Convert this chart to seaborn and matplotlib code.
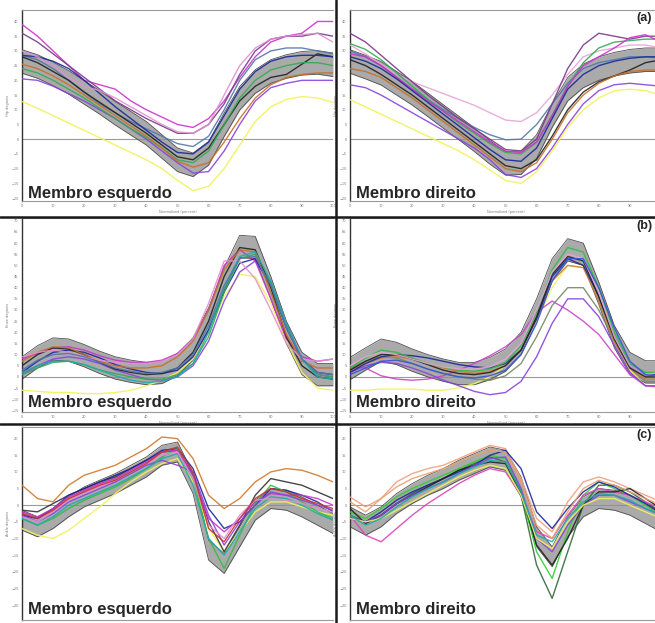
import matplotlib
matplotlib.use("Agg")
import matplotlib.pyplot as plt
from matplotlib.lines import Line2D
from matplotlib.ticker import MultipleLocator, FixedLocator
import numpy as np
import pandas as pd
import seaborn as sns

# gait cycle, percent
pct = list(range(0, 101, 5))

# ---- (a) hip flexion/extension, degrees ----
hip_l_mean = [26.4, 24.7, 22.2, 19.3, 15.9, 12.5, 8.8, 5.4, 2.0, -2.5, -7.0, -8.7, -4.8, 4.9, 13.9, 19.6, 23.0, 24.7, 25.8, 26.1, 25.3]
hip_r_mean = [26.4, 24.5, 22.4, 19.0, 15.6, 11.7, 7.7, 3.8, -0.2, -4.5, -8.2, -8.0, -2.5, 8.0, 17.0, 21.5, 24.0, 25.5, 26.5, 27.0, 27.0]
hip_sd = 4.0

hip_l_curves = [
    [39, 35, 30, 25, 20, 18.5, 17, 13, 10, 7.5, 5, 4, 7, 13, 21, 28, 33, 35, 36, 40, 40],
    [36, 33, 29, 25, 21, 17, 13, 10, 7, 4.5, 2, 2, 5, 12, 22, 30, 34, 35, 35, 36, 35],
    [28.5, 27, 24, 20, 16, 12, 9, 6, 3.5, 1, -1.5, -2.5, 1, 10, 20, 27, 30, 31, 31, 30, 29],
    [20.5, 20, 18, 15.5, 13, 10, 7, 3.5, 0, -4, -8, -11.5, -11, -4, 5, 13, 17.5, 19, 20, 20, 20],
    [12.8, 10.5, 8, 5.5, 3, 0.5, -2, -4.5, -7, -10, -14, -17.5, -16, -10, -2, 6, 11, 13.5, 14.5, 14, 12.5],
    [28, 26, 23, 20, 16, 12.5, 9, 5.5, 2, -2, -6, -7, -3, 5, 13, 18, 21, 22, 25.5, 29, 28],
    [28.5, 28, 26.5, 24, 20, 15.5, 11, 7, 3, -1, -4.5, -5, -1, 8, 17, 23, 26.5, 28, 28.5, 28.5, 28],
    [24, 22.5, 20, 17, 14, 10.5, 7, 3.5, 0.5, -3, -7, -8, -4, 5, 14, 20, 23.5, 25, 26, 26, 25],
    [25.5, 24, 21.5, 18.5, 15, 11.5, 8, 4.5, 1, -3, -7.5, -9.5, -8, -1, 7, 14, 18.5, 21, 22, 22.5, 22.5],
    [30, 28, 25, 21, 18, 16.5, 14, 11, 8, 5, 2.5, 2, 5, 15, 25, 31, 34, 35, 35.5, 36, 33],
]
hip_l_colors = ["#cc33cc", "#7a3a8a", "#5577aa", "#8844dd", "#f2f25a",
                "#222222", "#1a2a9a", "#33aa55", "#c8702a", "#e090d0"]

hip_r_curves = [
    [32, 29, 25.5, 22, 19.5, 17.5, 15.5, 13.5, 11.5, 9, 6.5, 6, 9, 15, 22, 28, 30, 31, 32, 32, 31],
    [30, 28, 25, 21, 17, 13.5, 10, 7, 4, 1.5, -0.2, 0, 5, 12, 19, 24, 26, 27, 28, 28, 27.5],
    [18.5, 17.5, 15, 12, 9, 6, 3, 0, -3, -7, -12, -13, -10, -3, 5, 12, 16.5, 18.5, 19, 18.5, 18],
    [13.4, 11, 8.5, 6, 3.5, 1, -1.5, -4, -7, -10.5, -14, -15, -11, -4, 4, 10, 14, 16.5, 17, 16.5, 15],
    [36, 33, 28.5, 24, 19.5, 15, 11, 7, 3.5, 0, -3.5, -4, 0, 12, 24, 32, 36, 35, 34, 35, 35],
    [32.5, 30.5, 27, 22.5, 18, 13.5, 9.5, 5.5, 2, -1.5, -4.5, -5, -1, 8, 18, 26, 31, 33, 33.5, 34, 34],
    [27, 25, 22, 18.5, 15, 11, 7, 3, -1, -5, -9, -10, -7, 1, 10, 16, 19.5, 21.5, 23.5, 26, 27],
    [29, 28, 25, 21, 17, 13, 9.5, 6, 2.5, -1, -4, -4.5, -1, 8, 18, 25, 28, 31, 34.5, 35.5, 33],
    [24, 23, 21, 17.5, 14, 10, 6, 2, -2, -6, -10, -11, -8, 0, 9, 15, 19, 21.5, 23, 23.5, 23.5],
    [28, 26.5, 24, 20.5, 16.5, 12.5, 8.5, 4.5, 0.5, -3.5, -7, -7.5, -3, 7, 17, 22, 25, 26.5, 27.5, 28, 28],
]
hip_r_colors = ["#e6a6d6", "#5577aa", "#8844dd", "#f2f25a", "#7a3a8a",
                "#33aa55", "#222222", "#cc33cc", "#c8702a", "#1a2a9a"]

# ---- (b) knee flexion/extension, degrees ----
knee_l_mean = [4, 9, 12.5, 12, 9.5, 6.5, 4, 2.5, 1.5, 2, 5.5, 12.5, 26, 44, 58.5, 58, 40, 20, 6, 1, 1]
knee_r_mean = [3.75, 8, 12, 10.5, 7.5, 5, 3, 1.5, 1.5, 3.75, 7.5, 15, 30, 48, 57, 55, 37.5, 18, 6, 2.25, 2.25]
knee_sd = 5.0

knee_l_curves = [
    [-6, -6.5, -7, -7, -7.5, -7.5, -7, -6, -4, -1.5, 2, 8, 20, 36, 46, 45, 33, 16, 2, -5, -6],
    [8, 10.5, 13, 13.5, 12, 9.5, 7.5, 6.5, 6.5, 7.5, 10.5, 17, 30, 50, 57, 52, 35, 17, 9, 7, 8],
    [1, 5, 8, 9, 8, 6, 3, 1, -1, -1.5, 0, 5, 16, 34, 47, 52, 42, 24, 8, 1, 0],
    [2, 7, 11, 12, 11, 8.5, 5.5, 3.5, 2, 1.5, 3, 9, 21, 38, 51, 53, 41, 22, 8, 2, 1],
    [1, 4, 6.5, 7, 5.5, 3, 1.5, 0, -1, -1, 1, 6, 18, 38, 53, 55, 42, 23, 8, 1, 0],
    [5, 10, 13, 12.5, 10, 6.5, 3.5, 2, 1, 1.5, 4, 11, 25, 45, 58, 57, 40, 18, 5, 0, -1],
    [7, 11, 13.5, 13, 10, 7, 5, 4, 4, 5, 9, 16, 30, 48, 57, 56, 38, 19, 7, 4, 4],
    [9, 11, 12, 11, 9, 7.5, 6.5, 6, 6, 7, 10, 17, 33, 52, 52, 44, 30, 15, 8, 7, 8],
    [2, 5, 7, 7, 5.5, 3, 0.5, -1.5, -2.5, -2, 0, 6, 20, 40, 54, 56, 43, 24, 8, 0, -1],
    [3, 7.5, 10, 10.5, 9, 6.5, 4, 2.5, 1.5, 2, 4, 10, 23, 41, 53, 54, 41, 22, 8, 2, 1],
]
knee_l_colors = ["#f2f25a", "#cc33cc", "#8844dd", "#1a2a9a", "#33aa55",
                 "#222222", "#c8702a", "#e090d0", "#22aaaa", "#5577aa"]

knee_r_curves = [
    [-6, -6, -5.5, -5.5, -5.5, -6, -6, -5, -3, 0, 5, 12, 25, 40, 50, 49, 36, 18, 3, -4, -5],
    [4.5, 4, 0.5, -1, -1.5, -1, 0.5, 3, 6, 9.5, 13.5, 19, 29, 34, 30, 25, 19, 10, 1, -4, -4.5],
    [2, 5, 6.5, 6, 4, 1.5, -1.5, -4, -6.5, -8, -7, -2, 9, 24, 35, 35, 27, 14, 2, -4, -4],
    [4, 7, 9, 8.5, 6, 3.5, 1.5, 0, -1, -1.5, 0.5, 6, 18, 32, 40, 40, 30, 16, 4, -2, -2],
    [3, 6, 8.5, 9, 8, 6, 4, 2.5, 1.5, 2.5, 5, 12, 26, 43, 50, 49, 34, 16, 4, -1, -1],
    [2, 6, 9, 10, 9.5, 8.5, 7, 5.5, 4.5, 4, 6, 12, 26, 45, 53, 50, 36, 18, 5, 1, 1],
    [4, 8.5, 12, 11, 8.5, 6, 4.5, 3, 2.5, 3.5, 6.5, 14, 29, 48, 58, 56, 40, 20, 6, 2, 2],
    [3, 7, 10, 10, 8, 5.5, 3, 1.5, 1, 2, 5, 12, 27, 46, 54, 52, 36, 17, 4, 0, 0],
    [5, 9, 11, 10, 8, 6, 4.5, 3.5, 3.5, 4.5, 8, 15, 30, 47, 55, 53, 38, 18, 5, 1, 2],
    [1, 4, 7, 7.5, 6, 3.5, 1.5, 0, -0.5, 0.5, 3, 10, 24, 43, 53, 53, 40, 22, 7, 1, 0],
]
knee_r_colors = ["#f2f25a", "#cc44cc", "#8844dd", "#778866", "#d07a30",
                 "#1a2a9a", "#33bb44", "#222222", "#e6a6d6", "#3355dd"]

# ---- (c) ankle dorsi/plantar flexion, degrees ----
ankle_l_mean = [-4.5, -6.5, -4, -0.5, 2.5, 4.5, 6.5, 9, 11.5, 15, 16, 6.5, -13.5, -17.5, -9.5, -1.5, 2, 1.5, -0.5, -3, -5.5]
ankle_r_mean = [-3.5, -6, -3.5, 0.5, 3.5, 6, 8, 10.5, 12.5, 14.5, 13.5, 5.5, -9.5, -15.5, -6.5, -0.5, 2, 1.5, 0, -2.5, -5]
ankle_sd = 3.0

ankle_l_curves = [
    [6, 2, 1, 6, 9, 10.5, 12, 14.5, 17, 20.5, 20, 14, 3, -1, 2, 7, 10, 11, 10.5, 9, 7],
    [-7, -9, -10, -7.5, -4, -0.5, 3.5, 7, 10, 12.5, 14, 7, -7, -14, -8, -2, 1, 1, -0.5, -2, -3],
    [-1.5, -2, 0.5, 3, 5, 7, 8.5, 11, 13.5, 16, 16.5, 9, -5, -14, -6, 3, 8, 7, 6, 4, 2],
    [-3, -4, -1, 3, 5, 7, 9, 11, 13.5, 16.5, 17, 11, -1, -7, -5, 0, 5, 4.5, 3, 1, -2],
    [-4, -6, -4, -1, 1.5, 3.5, 5.5, 8, 11, 14.5, 17, 8, -10, -19, -9, 0.5, 6, 4, 1, -2, -4],
    [-2, -3.5, -1, 2.5, 4.5, 6.5, 8, 10.5, 13, 16, 16.5, 9, -4, -8, -4, 1, 3.5, 3, 3, 2, 0],
    [-3, -5, -2.5, 1, 3, 5, 7, 9.5, 12, 13.5, 12, 10, -3, -12, -5, 0, 4, 3, 1.5, 0, -1.5],
    [-4, -6, -3.5, 0, 2, 4, 6, 8.5, 11, 14, 15.5, 6, -10, -15, -8, -1, 2.5, 2, 0, -2.5, -4.5],
    [-3.5, -5, -2, 1.5, 3.5, 5.5, 7.5, 10, 12.5, 15, 16, 8, -6, -10, -3, 1.5, 2, 1.5, 0.5, -1, -2],
    [-2.5, -4, -1.5, 2, 4, 6, 7.5, 10, 12.5, 16, 17.5, 10, -7, -11, -4, 2, 5, 4, 2, 0.5, -1],
]
ankle_l_colors = ["#d07a30", "#f2f25a", "#333333", "#1a2a9a", "#33bb44",
                  "#cc33cc", "#8844dd", "#22aaaa", "#e090d0", "#cc3333"]

ankle_r_curves = [
    [-3, -5, -3, 0.5, 3.5, 6, 8, 10.5, 12.5, 14.5, 13, 3, -18, -28, -14, 0, 6, 6, 4, 1, -2],
    [-2, -4, -1, 2.5, 5, 7, 9, 11, 13, 15, 14, 4, -14, -22, -8, 3, 7, 5, 3, 0, -3],
    [-3, -9, -11, -7, -3, 0.5, 3.5, 6.5, 9, 11, 10, 3, -8, -10, -3, 3, 5, 4, 3, 1, -1],
    [2.5, -0.5, 2, 7, 9.5, 11, 12, 14, 16, 18, 17, 8, -4, -8, 1, 7, 8.5, 7, 5, 3, 1],
    [-4, -5, -2, 1.5, 4, 6, 8, 10, 12, 15, 16.5, 11, -2, -7, -1, 4, 7, 5.5, 3, 0.5, -2.5],
    [-1, -5.5, -3, 0.5, 3, 5.5, 8, 10.5, 12, 13, 12.5, 4, -12, -18, -10, 0, 4, 4, 5, 2, -1],
    [-3.5, -5, -3, 0.5, 3, 5, 7, 9.5, 12, 14, 14.5, 5, -10, -14, -6, 0, 3, 3, 1, -1, -3],
    [-4, -5, -4, -1.5, 1, 3.5, 6, 8.5, 10.5, 12, 11, 3, -10, -13, -5, 0, 2, 2, 0, -2, -4],
    [1, -2, 2, 5.5, 8, 9.5, 11, 13, 15, 16.5, 16, 7, -6, -10, -2, 5, 7.5, 6, 4, 2, 0],
    [-3, -6, -4, -0.5, 2.5, 5, 7, 9.5, 11.5, 13.5, 13, 4, -9, -11, -4, 1, 3.5, 3, 1.5, -1, -3],
]
ankle_r_colors = ["#2f6b3a", "#33cc33", "#dd44bb", "#f0a080", "#1a2a9a",
                  "#222222", "#8844dd", "#f2f25a", "#e8a070", "#22aaaa"]

row_labels = ["(a)", "(b)", "(c)"]
side_labels = ["Membro esquerdo", "Membro direito"]
y_names = ["Hip degrees", "Knee degrees", "Ankle degrees"]
y_limits = [(-21, 43.9), (-15.75, 71.25), (-34.5, 23.5)]
x_ticks_left = list(range(0, 101, 10))
x_ticks_right = list(range(0, 91, 10))


def draw_panel(ax, mean, sd, curves, colors, ylim, yname, side_text, tag,
               text_y, xticks, show_x):
    mean = np.array(mean)
    ax.fill_between(pct, mean - sd, mean + sd, color="#8e8e8e", alpha=0.75,
                    linewidth=0, zorder=1)
    for edge in (mean - sd, mean + sd):
        sns.lineplot(x=pct, y=edge, ax=ax, color="#505050", linewidth=0.6, zorder=2)

    rows = []
    for i, c in enumerate(curves):
        for p, v in zip(pct, c):
            rows.append({"pct": p, "deg": v, "subj": f"s{i}"})
    df = pd.DataFrame(rows)
    pal = {f"s{i}": col for i, col in enumerate(colors)}
    sns.lineplot(data=df, x="pct", y="deg", hue="subj", palette=pal, ax=ax,
                 legend=False, linewidth=1.0, alpha=0.9, estimator=None,
                 sort=False, zorder=3)

    ax.axhline(0, color="#9a9a9a", linewidth=0.8, zorder=0)
    ax.set_xlim(0, 100)
    ax.set_ylim(*ylim)
    ax.xaxis.set_major_locator(FixedLocator(xticks))
    ax.xaxis.set_minor_locator(MultipleLocator(2))
    ax.yaxis.set_major_locator(MultipleLocator(5))
    ax.yaxis.set_minor_locator(MultipleLocator(1))
    ax.tick_params(which="both", labelsize=2.5, colors="#777777", length=1.5,
                   width=0.4, pad=1)
    ax.set_ylabel(yname, fontsize=2.5, color="#777777", labelpad=1)
    if show_x:
        ax.set_xlabel("Normalized (percent)", fontsize=2.5, color="#777777", labelpad=1)
    else:
        ax.set_xlabel("")
        ax.tick_params(axis="x", labelbottom=False)
    for s in ("top", "bottom"):
        ax.spines[s].set_color("#9a9a9a")
        ax.spines[s].set_linewidth(0.8)
    ax.spines["left"].set_color("#333333")
    ax.spines["left"].set_linewidth(1.0)
    ax.spines["right"].set_visible(False)

    ax.text(0.02, text_y, side_text, transform=ax.transAxes, fontsize=12,
            fontweight="bold", family="Liberation Sans", ha="left",
            va="baseline", zorder=5)
    if tag:
        ax.text(0.972, 0.96, tag, transform=ax.transAxes, fontsize=9,
                fontweight="bold", family="Liberation Sans", ha="right",
                va="center", zorder=5)


sns.set_style("white")
fig = plt.figure(figsize=(6.55, 6.23), dpi=100)
W, H = 655.0, 623.0

# panel boxes in pixels: (top, bottom) per row, left edge per column
rows_px = [(10, 201), (218, 412), (427, 620)]
cols_px = [22, 350]
text_ys = [0.015, 0.024, 0.031]

means = [(hip_l_mean, hip_r_mean), (knee_l_mean, knee_r_mean), (ankle_l_mean, ankle_r_mean)]
sds = [hip_sd, knee_sd, ankle_sd]
curve_sets = [(hip_l_curves, hip_r_curves), (knee_l_curves, knee_r_curves),
              (ankle_l_curves, ankle_r_curves)]
color_sets = [(hip_l_colors, hip_r_colors), (knee_l_colors, knee_r_colors),
              (ankle_l_colors, ankle_r_colors)]

for r, (top, bot) in enumerate(rows_px):
    for c, left in enumerate(cols_px):
        ax = fig.add_axes([left / W, (H - bot) / H, 311 / W, (bot - top) / H])
        draw_panel(ax, means[r][c], sds[r], curve_sets[r][c], color_sets[r][c],
                   y_limits[r], y_names[r], side_labels[c],
                   row_labels[r] if c == 1 else None, text_ys[r],
                   x_ticks_left if c == 0 else x_ticks_right, r < 2)

# thick dark frame lines between the screenshots
for y in (216.5, 424.0):
    fig.add_artist(Line2D([0, 1], [(H - y) / H] * 2, color="#1a1a1a", linewidth=1.8))
fig.add_artist(Line2D([335.5 / W] * 2, [0, 1], color="#1a1a1a", linewidth=1.8))

fig.savefig("out.png", dpi=100)
